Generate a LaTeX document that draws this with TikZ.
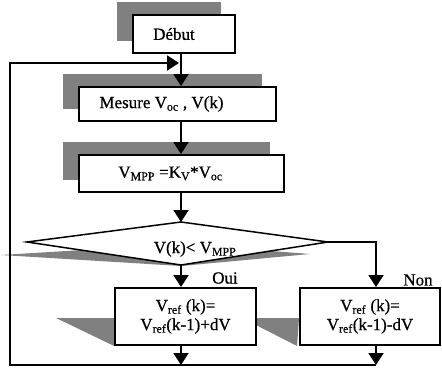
\documentclass[tikz,border=0pt]{standalone}
\usepackage{fontspec}
\setmainfont[FakeBold=0.6]{Liberation Serif}
\usetikzlibrary{arrows.meta,backgrounds}

\begin{document}
\begin{tikzpicture}[x=1pt,y=-1pt,line width=1.9pt,
  box/.style={draw,fill=white,inner sep=0pt,align=center,font=\fontsize{17}{19}\selectfont},
  txt/.style={inner sep=0pt,font=\fontsize{17}{19}\selectfont},
  flow/.style={-{Triangle[length=12pt,width=15pt]}},
  shadowfill/.style={fill=black!50}]
\useasboundingbox (0,0) rectangle (442,375);
% boxes
\node[box,minimum width=102pt,minimum height=38pt] (debut) at (184,34) {Début\hspace{20pt}};
\node[box,minimum width=197pt,minimum height=34pt] (mesure) at (177.5,104) {Mesure V\textsubscript{oc} , V(k)\hspace{32pt}};
\node[box,minimum width=205pt,minimum height=37pt] (vmpp) at (181.5,173.5) {V\textsubscript{MPP} =K\textsubscript{V}*V\textsubscript{oc}\hspace{22pt}};
\node[box,minimum width=141pt,minimum height=57pt] (oui) at (185.5,316.5) {V\textsubscript{ref} (k)=\\V\textsubscript{ref}(k-1)+dV\hspace{12pt}};
\node[box,minimum width=140pt,minimum height=57pt] (non) at (370,316.5) {V\textsubscript{ref} (k)=\\V\textsubscript{ref}(k-1)-dV\hspace{-6pt}};
% shadows
\begin{scope}[on background layer]
\foreach \n in {debut,mesure,vmpp}
  \fill[shadowfill] ([shift={(-15,-12.5)}]\n.south west) rectangle ([shift={(-15,-12.5)}]\n.north east);
\fill[shadowfill] ([shift={(-58,1.5)}]oui.west) -- ([shift={(0,1.5)}]oui.west) -- (oui.south west) -- cycle;
\fill[shadowfill] ([shift={(-57,1.5)}]non.west) -- ([shift={(0,1.5)}]non.west) -- ([xshift=-2pt]non.south west) -- cycle;
\end{scope}
% decision
\coordinate (dtop) at (181,222);
\coordinate (dright) at (328,242);
\coordinate (dbot) at (181,265);
\coordinate (dleft) at (27,242);
\fill[shadowfill] (1,255) -- (181,266) -- (310,254) -- (181,244) -- cycle;
\draw[fill=white,line width=1.5pt] (dtop) -- (dright) -- (dbot) -- (dleft) -- cycle;
\node[txt] (test) at (195,249) {V(k)< V\textsubscript{MPP}};
\node[txt] (oui label) at (225,278) {Oui};
\node[txt] (non label) at (418,280) {Non};
% connectors
\coordinate (axis) at (181,0);
\coordinate (naxis) at (376,0);
\coordinate (tl) at (10,63);
\coordinate (bl) at (10,365);
\coordinate (br) at (376,365);
\draw[flow] (debut.south -| axis) -- (mesure.north -| axis);
\draw[flow] (mesure.south -| axis) -- (vmpp.north -| axis);
\draw[flow] (vmpp.south -| axis) -- (dtop);
\draw[flow] (dbot) -- (oui.north -| axis);
\draw[flow] (dright) -- (dright -| naxis) -- (non.north -| naxis);
\draw[flow] (oui.south -| axis) -- (bl -| axis);
\draw[flow] (non.south -| naxis) -- (br);
\draw[flow,shorten >=2pt] (br) -- (bl) -- (tl) -- (tl -| axis);
\end{tikzpicture}
\end{document}
